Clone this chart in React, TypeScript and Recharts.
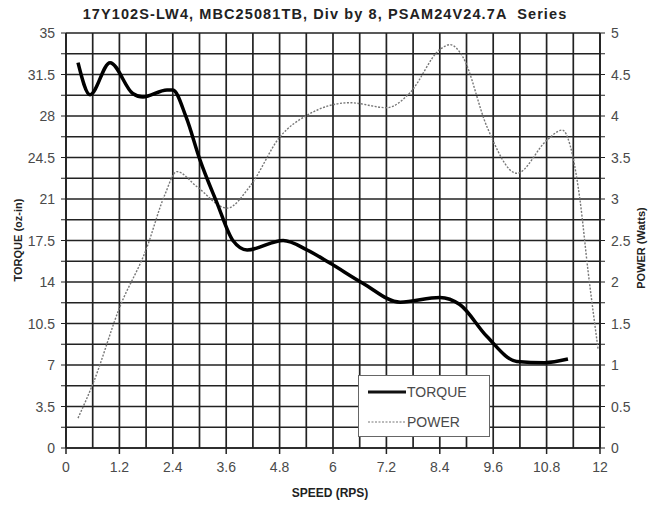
import React from "react"
import { LineChart, Line, XAxis, YAxis, CartesianGrid } from "recharts"

// torque curve (speed in RPS, torque in oz-in)
const torqueSpeed = [0.27, 0.54, 0.99, 1.5, 1.73, 2.27, 2.4, 2.7, 3.01, 3.39, 3.75, 4.07, 4.88, 5.42, 5.93, 6.67, 7.51, 8.4, 8.85, 9.46, 10.13, 10.76, 11.28]
const torqueValues = [32.5, 29.8, 32.5, 29.9, 29.6, 30.2, 30.2, 27.9, 24.3, 20.7, 17.5, 16.7, 17.5, 16.7, 15.6, 13.9, 12.3, 12.7, 12.1, 9.4, 7.3, 7.2, 7.5]

// power curve (speed in RPS, power in Watts)
const powerSpeed = [0.27, 0.61, 1.21, 1.8, 2.22, 2.49, 2.94, 3.62, 4.13, 4.81, 5.42, 6.38, 7.21, 7.73, 8.4, 8.63, 8.92, 9.46, 10.13, 10.81, 11.15, 11.39, 11.55, 11.73, 11.96]
const powerValues = [0.36, 0.78, 1.7, 2.39, 3.05, 3.33, 3.15, 2.89, 3.15, 3.75, 4.01, 4.16, 4.1, 4.28, 4.8, 4.86, 4.71, 3.87, 3.31, 3.71, 3.83, 3.51, 2.99, 2.14, 1.18]

const speedTicks = [0, 0.6, 1.2, 1.8, 2.4, 3, 3.6, 4.2, 4.8, 5.4, 6, 6.6, 7.2, 7.8, 8.4, 9, 9.6, 10.2, 10.8, 11.4, 12]
const speedLabels = ["0", "", "1.2", "", "2.4", "", "3.6", "", "4.8", "", "6", "", "7.2", "", "8.4", "", "9.6", "", "10.8", "", "12"]
const torqueTicks = [0, 1.75, 3.5, 5.25, 7, 8.75, 10.5, 12.25, 14, 15.75, 17.5, 19.25, 21, 22.75, 24.5, 26.25, 28, 29.75, 31.5, 33.25, 35]
const torqueLabels = ["0", "", "3.5", "", "7", "", "10.5", "", "14", "", "17.5", "", "21", "", "24.5", "", "28", "", "31.5", "", "35"]
const powerTicks = [0, 0.25, 0.5, 0.75, 1, 1.25, 1.5, 1.75, 2, 2.25, 2.5, 2.75, 3, 3.25, 3.5, 3.75, 4, 4.25, 4.5, 4.75, 5]
const powerLabels = ["0", "", "0.5", "", "1", "", "1.5", "", "2", "", "2.5", "", "3", "", "3.5", "", "4", "", "4.5", "", "5"]

const torqueData = torqueSpeed.map((s, i) => ({ speed: s, torque: torqueValues[i] }))
const powerData = powerSpeed.map((s, i) => ({ speed: s, power: powerValues[i] }))

const font = "'Liberation Sans', Arial, sans-serif"
const labelColor = "#4a4a4a"

function SpeedTick(props: any) {
  const { x, y, payload } = props
  const i = speedTicks.indexOf(payload.value)
  const label = speedLabels[i]
  if (!label) return null
  return (
    <g>
      <line x1={x} x2={x} y1={y - 8} y2={y - 2} stroke="#222" strokeWidth={1.5} />
      <text x={x} y={y + 16} textAnchor="middle" fontSize={14} fill={labelColor} fontFamily={font}>
        {label}
      </text>
    </g>
  )
}

function TorqueTick(props: any) {
  const { x, y, payload } = props
  const label = torqueLabels[torqueTicks.indexOf(payload.value)]
  return (
    <text x={x - 4} y={y + 5} textAnchor="end" fontSize={14} fill={labelColor} fontFamily={font}>
      {label}
    </text>
  )
}

function PowerTick(props: any) {
  const { x, y, payload } = props
  const label = powerLabels[powerTicks.indexOf(payload.value)]
  return (
    <text x={x + 4} y={y + 5} textAnchor="start" fontSize={14} fill={labelColor} fontFamily={font}>
      {label}
    </text>
  )
}

function LegendBox() {
  return (
    <div
      style={{
        position: "absolute",
        left: 358,
        top: 375,
        width: 132,
        height: 62,
        border: "1px solid #666",
        background: "#fff",
        boxSizing: "border-box",
      }}
    >
      <svg width={130} height={60} style={{ display: "block" }}>
        <line x1={9} x2={47} y1={16} y2={16} stroke="#111" strokeWidth={3} />
        <text x={48} y={21} fontSize={14} fill={labelColor} fontFamily={font}>TORQUE</text>
        <line x1={9} x2={47} y1={46} y2={46} stroke="#777" strokeWidth={1.2} strokeDasharray="2 1.5" />
        <text x={48} y={51} fontSize={14} fill={labelColor} fontFamily={font}>POWER</text>
      </svg>
    </div>
  )
}

const axisTitle: React.CSSProperties = {
  position: "absolute",
  fontWeight: "bold",
  color: "#222",
  whiteSpace: "nowrap",
}

export default function App() {
  return (
    <div style={{ position: "absolute", left: 0, top: 0, width: 650, height: 506, background: "#fff", fontFamily: font }}>
      <div style={{ position: "absolute", left: 0, top: 0 }}>
        <LineChart width={650} height={506} margin={{ top: 33, right: 0, bottom: 28, left: 0 }}>
          <CartesianGrid yAxisId="left" stroke="#222" strokeWidth={1.7} />
          <XAxis
            dataKey="speed"
            type="number"
            domain={[0, 12]}
            ticks={speedTicks}
            interval={0}
            height={30}
            tickLine={false}
            axisLine={{ stroke: "#222", strokeWidth: 1.7 }}
            tick={<SpeedTick />}
            allowDataOverflow
          />
          <YAxis
            yAxisId="left"
            type="number"
            domain={[0, 35]}
            ticks={torqueTicks}
            interval={0}
            width={66}
            tickSize={5}
            tickLine={{ stroke: "#222" }}
            axisLine={{ stroke: "#222", strokeWidth: 1.7 }}
            tick={<TorqueTick />}
          />
          <YAxis
            yAxisId="right"
            orientation="right"
            type="number"
            domain={[0, 5]}
            ticks={powerTicks}
            interval={0}
            width={50}
            tickSize={5}
            tickLine={{ stroke: "#222" }}
            axisLine={{ stroke: "#222", strokeWidth: 1.7 }}
            tick={<PowerTick />}
          />
          <Line
            yAxisId="right"
            data={powerData}
            dataKey="power"
            name="POWER"
            type="monotone"
            stroke="#777"
            strokeWidth={1.4}
            strokeDasharray="2 1.5"
            dot={false}
            isAnimationActive={false}
          />
          <Line
            yAxisId="left"
            data={torqueData}
            dataKey="torque"
            name="TORQUE"
            type="monotone"
            stroke="#000"
            strokeWidth={3.5}
            dot={false}
            isAnimationActive={false}
          />
        </LineChart>
      </div>
      <LegendBox />
      <div
        style={{
          ...axisTitle,
          left: 75,
          top: 6,
          width: 500,
          textAlign: "center",
          fontSize: 14.5,
          letterSpacing: 1.1,
          whiteSpace: "pre",
        }}
      >
        {"17Y102S-LW4, MBC25081TB, Div by 8, PSAM24V24.7A  Series"}
      </div>
      <div style={{ ...axisTitle, left: 18, top: 240, fontSize: 11, transform: "translate(-50%, -50%) rotate(-90deg)" }}>
        TORQUE (oz-in)
      </div>
      <div style={{ ...axisTitle, left: 641, top: 248, fontSize: 11, transform: "translate(-50%, -50%) rotate(-90deg)" }}>
        POWER (Watts)
      </div>
      <div style={{ ...axisTitle, left: 330, top: 486, fontSize: 12, transform: "translateX(-50%)" }}>
        SPEED (RPS)
      </div>
    </div>
  )
}
